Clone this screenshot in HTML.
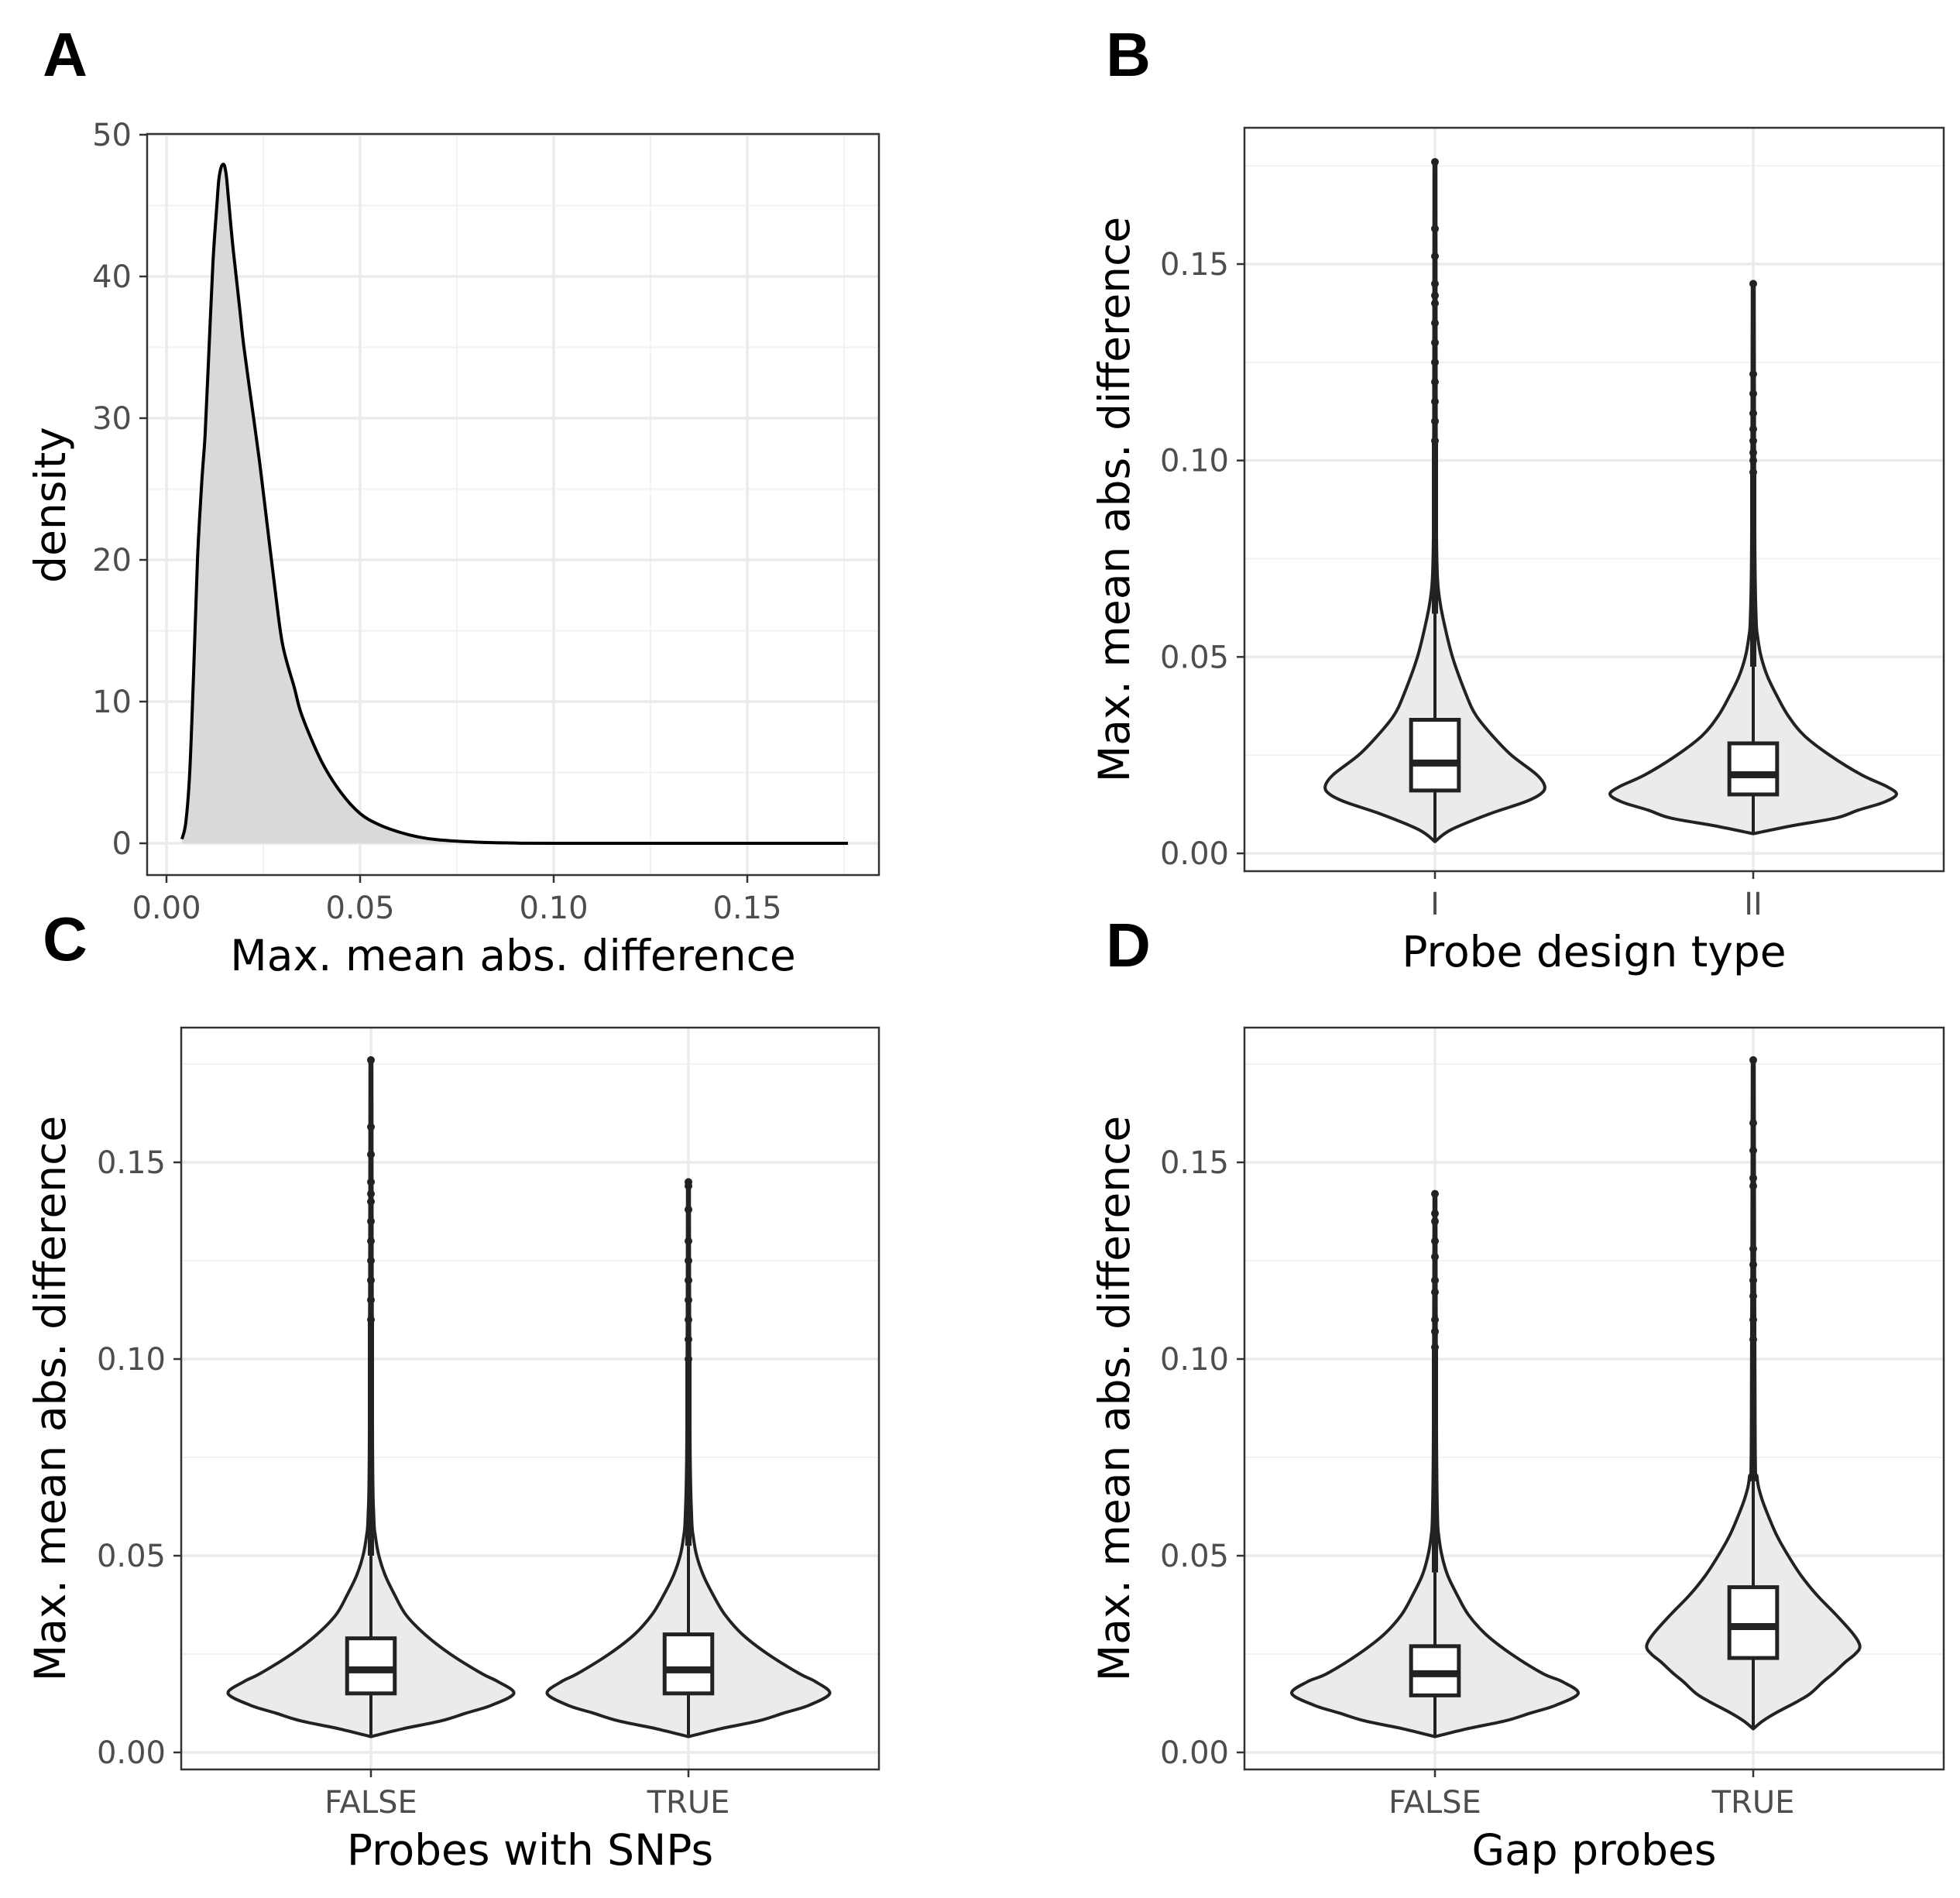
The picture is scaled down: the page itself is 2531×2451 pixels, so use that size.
<!DOCTYPE html>
<html><head><meta charset="utf-8"><style>
html,body{margin:0;padding:0;background:#fff;}
svg{display:block;font-family:"DejaVu Sans","Liberation Sans",sans-serif;}
</style></head><body>
<svg id="fig" width="2531" height="2451" viewBox="0 0 2531 2451" xmlns="http://www.w3.org/2000/svg"></svg>
<script>
// ---- Panel A data ----
const densX = [0.004,0.005,0.006,0.007,0.008,0.009,0.0095,0.01,0.011,0.012,0.013,0.0135,0.014,0.0145,0.015,0.0155,0.016,0.017,0.018,0.019,0.02,0.022,0.024,0.026,0.028,0.03,0.033,0.035,0.04,0.045,0.05,0.055,0.06,0.065,0.07,0.08,0.09,0.1,0.176];
const densY = [0.3,1.5,5,12,20,25,27,29,35,41,45,46.8,47.6,47.9,47.8,47,45.5,42.5,40,37.5,35,31,27,22.5,18,14,11,9,5.8,3.6,2.1,1.3,0.8,0.45,0.25,0.08,0.02,0,0];
const aXTicks = [0,0.05,0.10,0.15];
const aXTickLabels = ["0.00","0.05","0.10","0.15"];
const aYTicks = [0,10,20,30,40,50];

// ---- Violin data (value, relative half-width) ----
const vTicks = [0,0.05,0.10,0.15];
const vTickLabels = ["0.00","0.05","0.10","0.15"];
const bCats = ["I","II"];
const cCats = ["FALSE","TRUE"];
const dCats = ["FALSE","TRUE"];
const bIy = [0.003,0.006,0.01,0.013,0.015,0.017,0.02,0.025,0.03,0.035,0.04,0.05,0.06,0.065,0.07,0.08,0.1,0.176];
const bIw = [0,0.05,0.17,0.28,0.33,0.345,0.32,0.24,0.18,0.13,0.1,0.055,0.025,0.014,0.008,0.005,0.004,0.003];
const bIIy = [0.005,0.007,0.009,0.011,0.013,0.015,0.017,0.02,0.025,0.03,0.035,0.04,0.045,0.05,0.055,0.06,0.08,0.145];
const bIIw = [0,0.12,0.26,0.33,0.41,0.45,0.42,0.34,0.24,0.16,0.11,0.075,0.045,0.025,0.014,0.009,0.005,0.003];
const cFy = [0.004,0.006,0.008,0.01,0.012,0.015,0.018,0.02,0.025,0.03,0.035,0.04,0.045,0.05,0.055,0.06,0.08,0.176];
const cFw = [0,0.1,0.22,0.3,0.38,0.45,0.4,0.35,0.25,0.17,0.11,0.075,0.045,0.025,0.014,0.009,0.005,0.003];
const cTy = [0.004,0.006,0.008,0.01,0.012,0.015,0.018,0.02,0.025,0.03,0.035,0.04,0.045,0.05,0.055,0.06,0.08,0.145];
const cTw = [0,0.1,0.22,0.3,0.38,0.445,0.4,0.35,0.25,0.17,0.115,0.078,0.047,0.026,0.015,0.01,0.005,0.003];
const dFy = [0.004,0.006,0.008,0.01,0.012,0.015,0.018,0.02,0.025,0.03,0.035,0.04,0.045,0.05,0.055,0.06,0.08,0.142];
const dFw = [0,0.1,0.22,0.3,0.38,0.45,0.4,0.34,0.24,0.16,0.105,0.07,0.04,0.022,0.012,0.008,0.005,0.003];
const dTy = [0.006,0.008,0.01,0.013,0.015,0.018,0.02,0.023,0.025,0.027,0.03,0.035,0.04,0.045,0.05,0.055,0.06,0.065,0.07,0.08,0.176];
const dTw = [0,0.03,0.07,0.14,0.18,0.22,0.25,0.29,0.32,0.335,0.315,0.26,0.2,0.15,0.11,0.075,0.048,0.025,0.012,0.006,0.003];
const boxBI=[0.016,0.023,0.034], boxBII=[0.015,0.020,0.028];
const boxCF=[0.015,0.021,0.029], boxCT=[0.015,0.021,0.030];
const boxDF=[0.0145,0.020,0.027], boxDT=[0.024,0.032,0.042];
const outBI=[0.176,0.159,0.152,0.145,0.142,0.14,0.135,0.13,0.125,0.12,0.115,0.11,0.105];
const outBII=[0.145,0.122,0.117,0.112,0.108,0.105,0.102,0.1,0.097];
const outCF=[0.176,0.159,0.152,0.145,0.142,0.14,0.135,0.13,0.125,0.12,0.115,0.11];
const outCT=[0.145,0.144,0.138,0.13,0.125,0.12,0.115,0.11,0.105,0.1];
const outDF=[0.142,0.137,0.135,0.13,0.126,0.12,0.117,0.11,0.107,0.103];
const outDT=[0.176,0.16,0.153,0.146,0.144,0.128,0.124,0.12,0.116,0.11,0.105];

const NS="http://www.w3.org/2000/svg";
const svg=document.getElementById('fig');
const TICKFS=40, TITLEFS=55;
function mk(tag,attrs,parent){const e=document.createElementNS(NS,tag);for(const k in attrs)e.setAttribute(k,attrs[k]);(parent||svg).appendChild(e);return e;}
function txt(s,attrs,parent){const e=mk('text',attrs,parent);e.textContent=s;return e;}
function smooth(pts){ // catmull-rom to bezier
  let d='M'+pts[0][0]+','+pts[0][1];
  for(let i=0;i<pts.length-1;i++){
    const p0=pts[i-1]||pts[i],p1=pts[i],p2=pts[i+1],p3=pts[i+2]||p2;
    const c1=[p1[0]+(p2[0]-p0[0])/6,p1[1]+(p2[1]-p0[1])/6];
    const c2=[p2[0]-(p3[0]-p1[0])/6,p2[1]-(p3[1]-p1[1])/6];
    d+=' C'+c1[0]+','+c1[1]+' '+c2[0]+','+c2[1]+' '+p2[0]+','+p2[1];
  }
  return d;
}

function panelLabel(s,x,y){
  const t=txt(s,{x:x,y:y,'font-size':80,'font-weight':'bold','text-anchor':'middle',fill:'#000','font-family':'Liberation Sans, sans-serif'});
  
  
}

// ---------- Panel A ----------
(function(){
  const g=mk('g',{});
  
  
  const L=190,R=1135,T=173,B=1130;
  const sx=v=>215+v*5000, sy=v=>1089-v*(1089-174)/50;
  for(let v=0.025;v<0.19;v+=0.05) mk('line',{x1:sx(v),x2:sx(v),y1:T,y2:B,stroke:'#f2f2f2','stroke-width':2},g);
  for(let v=5;v<55;v+=10) mk('line',{x1:L,x2:R,y1:sy(v),y2:sy(v),stroke:'#f2f2f2','stroke-width':2},g);
  aXTicks.forEach(v=>mk('line',{x1:sx(v),x2:sx(v),y1:T,y2:B,stroke:'#ebebeb','stroke-width':3.5},g));
  aYTicks.forEach(v=>mk('line',{x1:L,x2:R,y1:sy(v),y2:sy(v),stroke:'#ebebeb','stroke-width':3.5},g));
  const pts=densX.map((x,i)=>[sx(x),sy(densY[i])]);
  const line=smooth(pts);
  const area=mk('path',{d:line+' L'+sx(densX[densX.length-1])+','+sy(0)+' L'+sx(densX[0])+','+sy(0)+' Z',fill:'#d9d9d9',stroke:'none'},g);
  
  
  const ln=mk('path',{d:line,fill:'none',stroke:'#000','stroke-width':4,'stroke-linejoin':'round'},g);
  
  
  mk('rect',{x:L,y:T,width:R-L,height:B-T,fill:'none',stroke:'#333','stroke-width':2.5},g);
  aYTicks.forEach(v=>{mk('line',{x1:L-10,x2:L,y1:sy(v),y2:sy(v),stroke:'#333','stroke-width':2.5},g);
    const t=txt(String(v),{x:L-20,y:sy(v)+14,'font-size':TICKFS,fill:'#4d4d4d','text-anchor':'end'},g);
    });
  aXTicks.forEach((v,i)=>{mk('line',{x1:sx(v),x2:sx(v),y1:B,y2:B+10,stroke:'#333','stroke-width':2.5},g);
    const t=txt(aXTickLabels[i],{x:sx(v),y:B+56,'font-size':TICKFS,fill:'#4d4d4d','text-anchor':'middle'},g);
    });
  const xt=txt('Max. mean abs. difference',{x:(L+R)/2,y:1253,'font-size':TITLEFS,fill:'#000','text-anchor':'middle'},g);
  
  const yt=txt('density',{x:0,y:0,'font-size':TITLEFS,fill:'#000','text-anchor':'middle',transform:'translate(84,652) rotate(-90)'},g);
  
})();
panelLabel('A',84,98);

// ---------- Violin panels ----------
function violinPanel(name,L,R,T,B,y0,y15,cats,cx,vys,vws,boxes,outs,xtitle,ytitleX){
  const g=mk('g',{});
  
  
  const sy=v=>y0-(y0-y15)*v/0.15;
  const spacing=cx[1]-cx[0];
  [0.025,0.075,0.125,0.175].forEach(v=>mk('line',{x1:L,x2:R,y1:sy(v),y2:sy(v),stroke:'#f2f2f2','stroke-width':2},g));
  vTicks.forEach(v=>mk('line',{x1:L,x2:R,y1:sy(v),y2:sy(v),stroke:'#ebebeb','stroke-width':3.5},g));
  cx.forEach(x=>mk('line',{x1:x,x2:x,y1:T,y2:B,stroke:'#ebebeb','stroke-width':3.5},g));
  cx.forEach((x,k)=>{
    const ys=vys[k],ws=vws[k];
    const right=ys.map((v,i)=>[x+ws[i]*spacing,sy(v)]);
    const left=ys.map((v,i)=>[x-ws[i]*spacing,sy(v)]).reverse();
    const dr=smooth(right), dl=smooth(left);
    const d=dr+' L'+dl.slice(1)+' Z';
    const vp=mk('path',{d:d,fill:'#ebebeb',stroke:'#222','stroke-width':4,'stroke-linejoin':'round'},g);
    
    
    const bx=boxes[k], hw=0.075*spacing;
    const iqr=bx[2]-bx[0];
    const wtop=Math.min(bx[2]+1.5*iqr,outs[k][0]);
    mk('line',{x1:x,x2:x,y1:sy(ys[0]),y2:sy(bx[0]),stroke:'#222','stroke-width':4},g);
    mk('line',{x1:x,x2:x,y1:sy(bx[2]),y2:sy(wtop),stroke:'#222','stroke-width':4},g);
    mk('line',{x1:x,x2:x,y1:sy(wtop),y2:sy(outs[k][outs[k].length-1]),stroke:'#222','stroke-width':8},g);
    mk('line',{x1:x,x2:x,y1:sy(outs[k][outs[k].length-1]),y2:sy(outs[k][0]),stroke:'#222','stroke-width':4.5},g);
    outs[k].forEach(v=>{const c=mk('circle',{cx:x,cy:sy(v),r:5,fill:'#222'},g);
      });
    const r=mk('rect',{x:x-hw,y:sy(bx[2]),width:2*hw,height:sy(bx[0])-sy(bx[2]),fill:'#fff',stroke:'#222','stroke-width':5},g);
    
    
    mk('line',{x1:x-hw,x2:x+hw,y1:sy(bx[1]),y2:sy(bx[1]),stroke:'#222','stroke-width':9},g);
  });
  mk('rect',{x:L,y:T,width:R-L,height:B-T,fill:'none',stroke:'#333','stroke-width':2.5},g);
  vTicks.forEach((v,i)=>{mk('line',{x1:L-10,x2:L,y1:sy(v),y2:sy(v),stroke:'#333','stroke-width':2.5},g);
    const t=txt(vTickLabels[i],{x:L-20,y:sy(v)+14,'font-size':TICKFS,fill:'#4d4d4d','text-anchor':'end'},g);
    });
  cx.forEach((x,k)=>{mk('line',{x1:x,x2:x,y1:B,y2:B+10,stroke:'#333','stroke-width':2.5},g);
    const t=txt(cats[k],{x:x,y:B+56,'font-size':TICKFS,fill:'#4d4d4d','text-anchor':'middle'},g);
    });
  const xt=txt(xtitle,{x:(L+R)/2,y:B+123,'font-size':TITLEFS,fill:'#000','text-anchor':'middle'},g);
  
  const yt=txt('Max. mean abs. difference',{x:0,y:0,'font-size':TITLEFS,fill:'#000','text-anchor':'middle',transform:'translate('+ytitleX+','+((T+B)/2)+') rotate(-90)'},g);
  
}
violinPanel('panel-b-violin',1607,2510,165,1125,1102,341,bCats,[1853,2264],[bIy,bIIy],[bIw,bIIw],[boxBI,boxBII],[outBI,outBII],'Probe design type',1458);
violinPanel('panel-c-violin',234,1135,1327,2285,2263,1501,cCats,[479,889],[cFy,cTy],[cFw,cTw],[boxCF,boxCT],[outCF,outCT],'Probes with SNPs',84);
violinPanel('panel-d-violin',1607,2510,1327,2285,2263,1501,dCats,[1853,2264],[dFy,dTy],[dFw,dTw],[boxDF,boxDT],[outDF,outDT],'Gap probes',1458);
panelLabel('B',1457,98);
panelLabel('C',84,1240);
panelLabel('D',1457,1248);
</script>
</body></html>
